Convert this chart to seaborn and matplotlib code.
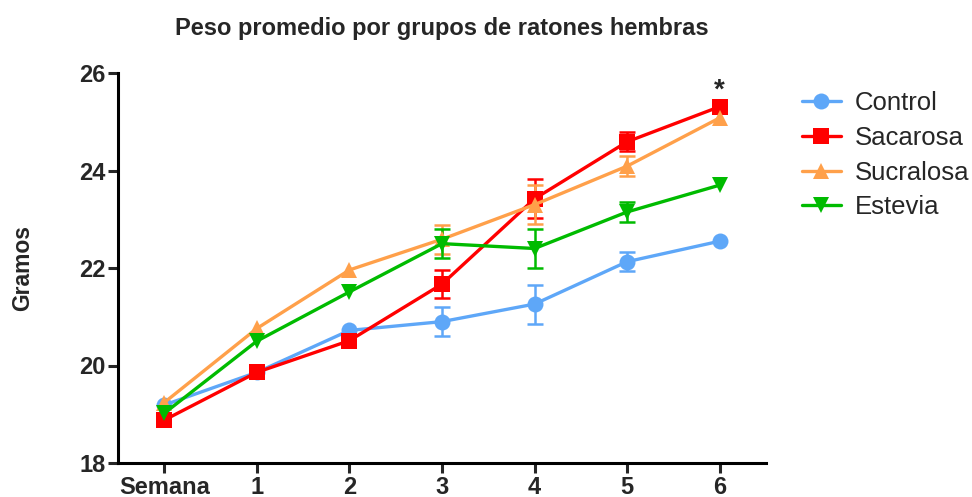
import pandas as pd
import seaborn as sns
import matplotlib.pyplot as plt
from matplotlib.lines import Line2D

weeks = [0, 1, 2, 3, 4, 5, 6]
week_labels = ["Semana", "1", "2", "3", "4", "5", "6"]
groups = ["Control", "Sacarosa", "Sucralosa", "Estevia"]

control = [19.19, 19.86, 20.72, 20.90, 21.26, 22.13, 22.55]
sacarosa = [18.88, 19.86, 20.51, 21.67, 23.42, 24.59, 25.31]
sucralosa = [19.24, 20.76, 21.96, 22.59, 23.30, 24.09, 25.08]
estevia = [19.02, 20.50, 21.51, 22.50, 22.40, 23.15, 23.70]

# SEM; 0 where the bar is hidden behind the marker
control_sem = [0, 0, 0, 0.30, 0.40, 0.20, 0]
sacarosa_sem = [0, 0, 0, 0.29, 0.40, 0.20, 0]
sucralosa_sem = [0, 0, 0, 0.30, 0.40, 0.20, 0]
estevia_sem = [0, 0, 0, 0.30, 0.40, 0.20, 0]

colors = {"Control": "#5EA7F8", "Sacarosa": "#FF0000",
          "Sucralosa": "#FFA04A", "Estevia": "#00BB00"}
markers = {"Control": "o", "Sacarosa": "s", "Sucralosa": "^", "Estevia": "v"}

means = {"Control": control, "Sacarosa": sacarosa,
         "Sucralosa": sucralosa, "Estevia": estevia}
sems = {"Control": control_sem, "Sacarosa": sacarosa_sem,
        "Sucralosa": sucralosa_sem, "Estevia": estevia_sem}

df = pd.DataFrame(
    [(g, w, m, s) for g in groups
     for w, m, s in zip(weeks, means[g], sems[g])],
    columns=["grupo", "semana", "peso", "sem"],
)

sns.set_style("ticks")
plt.rcParams["font.family"] = ["Liberation Sans", "DejaVu Sans"]

fig = plt.figure(figsize=(9.72, 4.97), dpi=100)
ax = fig.add_axes([118 / 972, 34 / 497, (766 - 118) / 972, (463 - 73) / 497])

# error bars first, lines on top
for g in groups:
    sub = df[(df["grupo"] == g) & (df["sem"] > 0)]
    ax.errorbar(sub["semana"], sub["peso"], yerr=sub["sem"], fmt="none",
                ecolor=colors[g], elinewidth=1.8, capsize=6, capthick=1.8,
                zorder=2)

sns.lineplot(data=df, x="semana", y="peso", hue="grupo", style="grupo",
             palette=colors, markers=markers, dashes=False, ax=ax,
             linewidth=2.4, markersize=11.5, markeredgewidth=0, legend=False,
             zorder=3)

ax.set_xlim(-0.5, 6.5)
ax.set_ylim(18, 26)
ax.set_xticks(weeks)
ax.set_xticklabels(week_labels)
ax.set_yticks([18, 20, 22, 24, 26])
ax.tick_params(axis="both", width=2.2, length=7, labelsize=17, pad=2)
for lbl in ax.get_xticklabels() + ax.get_yticklabels():
    lbl.set_fontweight("bold")

sns.despine(ax=ax)
for sp in ["left", "bottom"]:
    ax.spines[sp].set_linewidth(2.2)
    ax.spines[sp].set_color("black")

ax.set_xlabel("")
ax.set_ylabel("Gramos", fontsize=16.5, fontweight="bold", labelpad=32)
ax.set_title("Peso promedio por grupos de ratones hembras",
             fontsize=17, fontweight="bold", pad=27)

# significance mark
ax.text(6, 25.38, "*", ha="center", va="bottom", fontsize=20, fontweight="bold")

handles = [Line2D([], [], color=colors[g], marker=markers[g], linewidth=2.4,
                  markersize=11.5, markeredgewidth=0) for g in groups]
ax.legend(handles, groups, loc="upper left", bbox_to_anchor=(1.04, 0.98),
          frameon=False, fontsize=18.5, handlelength=1.5, handletextpad=0.55,
          labelspacing=0.42, borderaxespad=0)

plt.savefig("out.png", dpi=100)
plt.close()
